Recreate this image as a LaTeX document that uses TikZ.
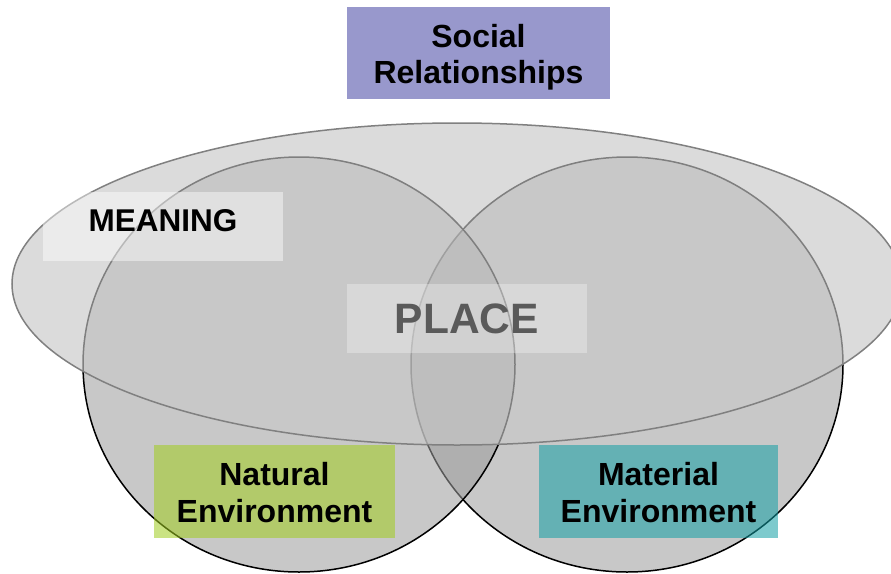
\documentclass[tikz,border=0pt]{standalone}
\usepackage{fontspec}
\setmainfont{Liberation Sans}
\definecolor{circfill}{RGB}{157,157,157}
\definecolor{ellfill}{RGB}{200,200,200}
\definecolor{elldraw}{RGB}{128,128,128}
\definecolor{socialfill}{RGB}{152,152,204}
\definecolor{natfill}{RGB}{160,204,30}
\definecolor{matfill}{RGB}{19,159,164}
\definecolor{placetext}{RGB}{90,90,90}
\tikzset{
  circ/.style={draw=black, line width=1.5pt, fill=circfill, fill opacity=0.56},
  bigell/.style={draw=elldraw, line width=1.5pt, fill=ellfill, fill opacity=0.64},
  labelbox/.style={inner sep=0pt, align=center, text opacity=1, font=\bfseries\fontsize{32}{36}\selectfont},
}
\begin{document}
\begin{tikzpicture}[x=1pt,y=-1pt]
\clip (0,0) rectangle (891,573);
\fill[white] (0,0) rectangle (891,573);
% circles
\draw[circ] (627,364.5) ellipse [x radius=216, y radius=207.5];
\draw[circ] (299,364.5) ellipse [x radius=216, y radius=207.5];
% big ellipse
\draw[bigell] (457,284) ellipse [x radius=445, y radius=161];
% boxes
\node[labelbox, fill=socialfill, minimum width=263pt, minimum height=92pt] (social) at (478.5,53) {\rule{0pt}{32pt}Social\\Relationships};
\node[labelbox, fill=white, fill opacity=0.45, minimum width=240pt, minimum height=69pt, text depth=12pt, font=\bfseries\fontsize{31.5}{36}\selectfont] (meaning) at (163,226.5) {MEANING};
\node[labelbox, fill=white, fill opacity=0.3, minimum width=240pt, minimum height=69pt, text=placetext, font=\bfseries\fontsize{42.5}{48}\selectfont] (place) at (467,318.5) {PLACE};
\node[labelbox, fill=natfill, fill opacity=0.55, minimum width=241pt, minimum height=93pt, font=\bfseries\fontsize{32}{37}\selectfont] (natural) at (274.5,491.5) {\rule{0pt}{26pt}Natural\\Environment};
\node[labelbox, fill=matfill, fill opacity=0.55, minimum width=239pt, minimum height=93pt, font=\bfseries\fontsize{32}{37}\selectfont] (material) at (658.5,491.5) {\rule{0pt}{26pt}Material\\Environment};
\end{tikzpicture}
\end{document}
